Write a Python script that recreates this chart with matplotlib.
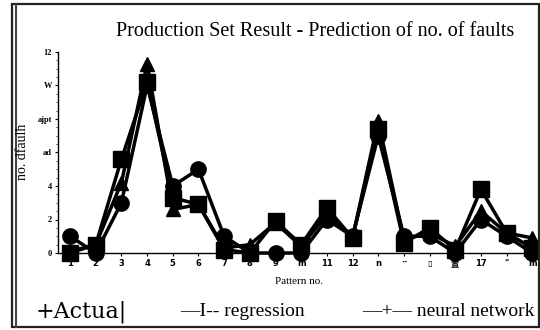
import matplotlib
matplotlib.use("Agg")
import matplotlib.pyplot as plt
from matplotlib.patches import Rectangle

patterns = list(range(1, 20))
xtick_labels = ['1', '2', '3', '4', '5', '6', '7', '8', '9', 'm', '11', '12', 'n',
                '··', '▯', '置', '17', '"', 'm']
ytick_values = [0, 2, 4, 6, 8, 10, 12]
ytick_labels = ['0', '2', '4', 'ad', 'ajpt', 'W', '12']

actual = [1, 0, 3, 10, 4, 5, 1, 0, 0, 0, 2, 1, 7, 1, 1, 0, 2, 1, 0]
regression = [0, 0.5, 5.6, 10.2, 3.3, 2.9, 0.2, 0, 1.9, 0.5, 2.7, 0.9, 7.4, 0.6, 1.5, 0.2, 3.8, 1.2, 0.3]
neural = [0.1, 0.5, 4.2, 11.3, 2.6, 2.9, 0.3, 0.5, 1.8, 0.4, 2.3, 0.9, 7.9, 0.8, 1.2, 0.4, 2.5, 1.2, 0.9]

legend_texts = ['+Actua|', '—I-- regression', '—+— neural network']

fig = plt.figure(figsize=(5.4, 3.3), dpi=100)
fig.patch.set_facecolor('white')

# outer frame
fig.add_artist(Rectangle((12/540, 3/330), 527/540, 323/330, transform=fig.transFigure,
                         fill=False, edgecolor='#222222', lw=1.6))
fig.add_artist(Rectangle((15/540, 3/330), 0.001, 323/330, transform=fig.transFigure,
                         fill=False, edgecolor='#444444', lw=0.8))

ax = fig.add_axes([58/540, (330-253)/330, 482/540, (253-52)/330])
ax.set_xlim(0.53, 19.3)
ax.set_ylim(0, 12)

for s in ['top', 'right']:
    ax.spines[s].set_visible(False)
ax.spines['left'].set_linewidth(1.0)
ax.spines['bottom'].set_linewidth(1.0)

ax.plot(patterns, actual, color='black', lw=2.5, marker='o', markersize=11, clip_on=False, zorder=3)
ax.plot(patterns, regression, color='black', lw=2.5, marker='s', markersize=11, clip_on=False, zorder=4)
ax.plot(patterns, neural, color='black', lw=2.5, marker='^', markersize=10, clip_on=False, zorder=5)

ax.set_xticks(patterns)
ax.set_xticklabels(xtick_labels, fontsize=6, fontweight='bold',
                   family=['DejaVu Sans', 'Noto Sans CJK SC'])
ax.set_yticks(ytick_values)
ax.set_yticklabels(ytick_labels, fontsize=6, family='Liberation Serif', fontweight='bold')
ax.tick_params(axis='both', length=2.5, width=0.8, pad=2)
ax.minorticks_on()
ax.tick_params(axis='y', which='minor', length=1.5, width=0.5)
ax.tick_params(axis='x', which='minor', bottom=False)

ax.set_xlabel('Pattern no.', family='Liberation Serif', fontsize=8, labelpad=6)
fig.text(23/540, 1 - 152/330, 'no. dfaulh', rotation=90, ha='center', va='center',
         family='Liberation Serif', fontsize=10)

fig.text(315/540, 1 - 31/330, 'Production Set Result - Prediction of no. of faults',
         ha='center', va='center', family='Liberation Serif', fontsize=14.5)

fig.text(36/540, 1 - 312/330, legend_texts[0], ha='left', va='center',
         family='DejaVu Serif', fontsize=16)
fig.text(180/540, 1 - 311/330, legend_texts[1], ha='left', va='center',
         family='Liberation Serif', fontsize=14)
fig.text(362/540, 1 - 312/330, legend_texts[2], ha='left', va='center',
         family='Liberation Serif', fontsize=14)

fig.savefig('out.png', dpi=100)
